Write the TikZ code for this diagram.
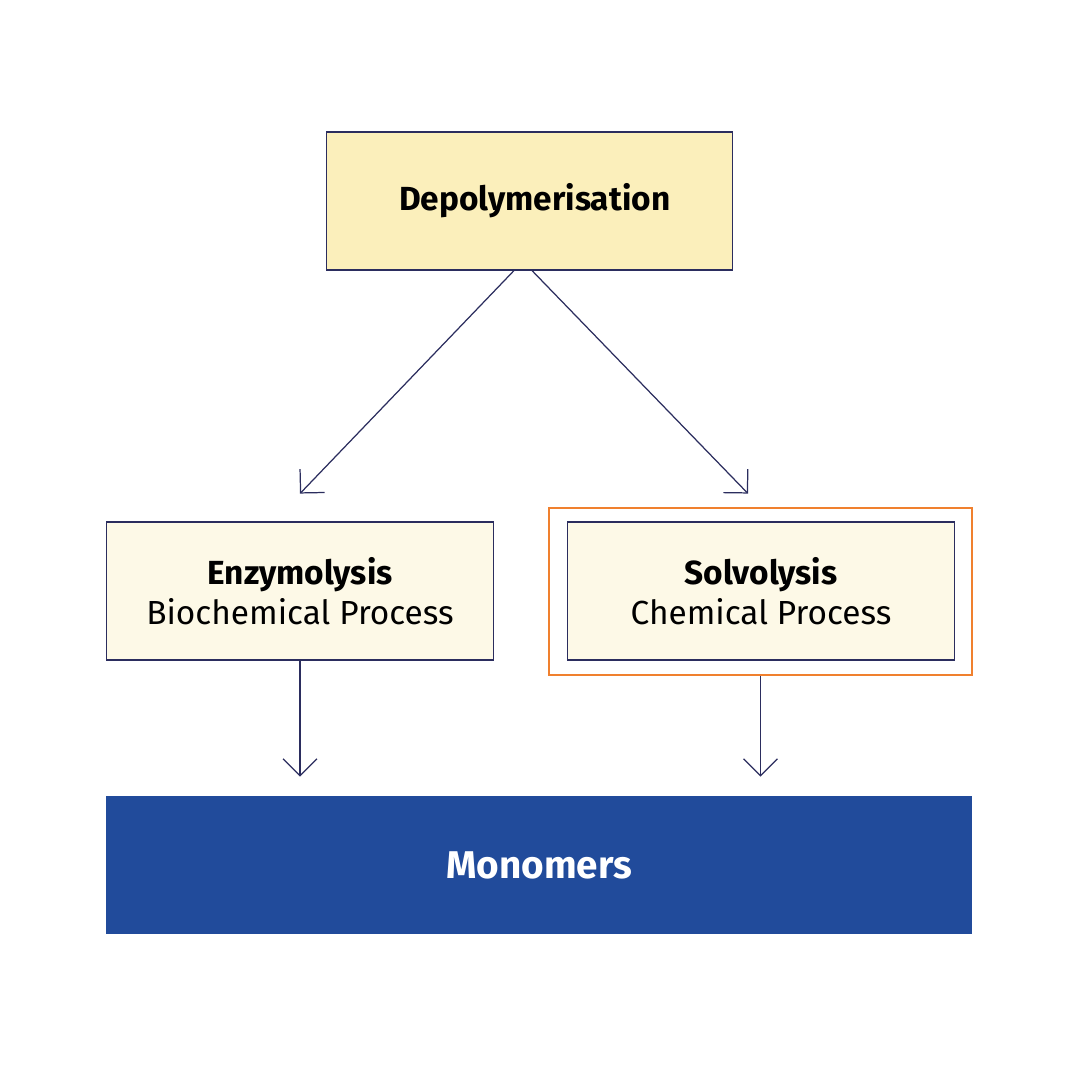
\documentclass[tikz,border=0pt]{standalone}
\usepackage{fontspec}
\setmainfont{Fira Sans}
\usetikzlibrary{arrows.meta,calc}

\definecolor{navyline}{HTML}{2B2D5E}
\definecolor{depolfill}{HTML}{FBEFBB}
\definecolor{processfill}{HTML}{FDF9E7}
\definecolor{framecol}{HTML}{F0802E}
\definecolor{monofill}{HTML}{214B9B}

\begin{document}
\begin{tikzpicture}[x=0.02cm, y=-0.02cm, >={Straight Barb[length=9.6pt, width=19.3pt]},
    box/.style={draw=navyline, line width=0.6pt, minimum width=7.76cm, minimum height=2.76cm,
      align=center, font=\fontsize{19}{22.5}\selectfont, inner sep=0pt},
    arr/.style={->, draw=navyline, line width=0.7pt}]

  \useasboundingbox (0,0) rectangle (1080,1080);

  %%%%%%%%%%%%%%%%%%%%%%%%%%%%%%%%%%%%%%%%%%%%%%%%%
  % Top box
  \node[box, fill=depolfill, minimum width=8.14cm] (depol) at (529.5,201)
      {\hspace*{6pt}\textbf{Depolymerisation}};

  % Process boxes
  \node[box, fill=processfill] (enzy) at (300,591)
      {\textbf{Enzymolysis}\\Biochemical Process};
  \node[box, fill=processfill] (solvo) at (761,591)
      {\textbf{Solvolysis}\\Chemical Process};

  % Orange frame round solvolysis
  \node[draw=framecol, line width=1.2pt, minimum width=8.46cm, minimum height=3.34cm,
      inner sep=0pt] (frame) at (760.5,591.5) {};

  % Result
  \node[box, fill=monofill, draw=none, text=white, minimum width=17.32cm,
      font=\fontsize{22}{26}\selectfont] (mono) at (539,865)
      {\textbf{Monomers}};

  %%%%%%%%%%%%%%%%%%%%%%%%%%%%%%%%%%%%%%%%%%%%%%%%%
  % Arrows
  \draw[arr] ([xshift=-8.8pt]depol.south) -- ([yshift=15.9pt]enzy.north);
  \draw[arr] ([xshift=1.4pt]depol.south) -- ([xshift=-7.4pt, yshift=15.9pt]solvo.north);
  \draw[arr] (enzy.south) -- ([yshift=10.8pt]enzy.south |- mono.north);
  \draw[arr] (frame.south) -- ([yshift=10.8pt]frame.south |- mono.north);

\end{tikzpicture}
\end{document}
